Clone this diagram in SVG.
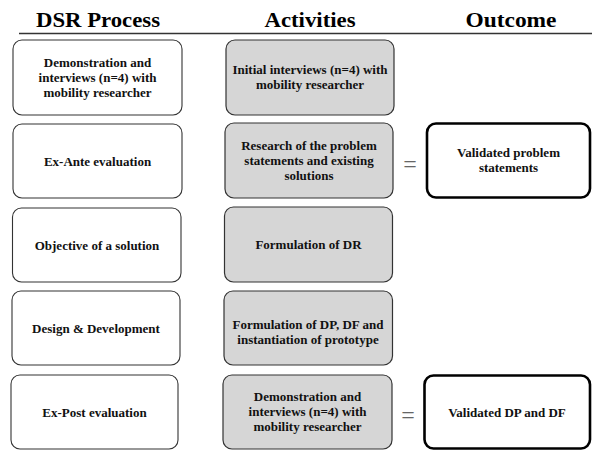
<svg xmlns="http://www.w3.org/2000/svg" width="592" height="450" viewBox="0 0 592 450">
<style>
.hdr{font-family:"Liberation Serif","Times New Roman",serif;font-weight:bold;font-size:21px;fill:#000;text-anchor:middle}
.t{font-family:"Liberation Serif","Times New Roman",serif;font-weight:bold;font-size:13px;fill:#111;text-anchor:middle}
.eq{font-family:"Liberation Serif","Times New Roman",serif;font-size:24px;fill:#666;text-anchor:middle}
.proc{fill:#fff;stroke:#333;stroke-width:1.1}
.act{fill:#d6d6d6;stroke:#333;stroke-width:1.2}
.out{fill:#fff;stroke:#000;stroke-width:2.6}
</style>
<rect width="592" height="450" fill="#fff"/>
<g id="headers">
<text class="hdr" x="98" y="27" textLength="124" lengthAdjust="spacingAndGlyphs">DSR Process</text>
<text class="hdr" x="310" y="27" textLength="91" lengthAdjust="spacingAndGlyphs">Activities</text>
<text class="hdr" x="511" y="27" textLength="91" lengthAdjust="spacingAndGlyphs">Outcome</text>
<line x1="19" y1="33.5" x2="592" y2="33.5" stroke="#333" stroke-width="1.3"/>
</g>
<g id="p1"><rect class="proc" x="13" y="40" width="169" height="75" rx="9"/>
<text class="t" x="97.5" y="66.5">Demonstration and</text><text class="t" x="97.5" y="81.5">interviews (n=4) with</text><text class="t" x="97.5" y="96.5">mobility researcher</text></g>
<g id="p2"><rect class="proc" x="13" y="124" width="169" height="74" rx="9"/>
<text class="t" x="97.5" y="165.5">Ex-Ante evaluation</text></g>
<g id="p3"><rect class="proc" x="12.5" y="208" width="168.5" height="74" rx="9"/>
<text class="t" x="97" y="249.5">Objective of a solution</text></g>
<g id="p4"><rect class="proc" x="12" y="291" width="168" height="74" rx="9"/>
<text class="t" x="96" y="332.5">Design &amp; Development</text></g>
<g id="p5"><rect class="proc" x="11" y="375" width="167" height="74" rx="9"/>
<text class="t" x="94.5" y="416.5">Ex-Post evaluation</text></g>
<g id="a1"><rect class="act" x="226" y="40" width="168" height="75" rx="9"/>
<text class="t" x="310" y="74">Initial interviews (n=4) with</text><text class="t" x="310" y="89">mobility researcher</text></g>
<g id="a2"><rect class="act" x="225" y="123" width="168" height="75" rx="9"/>
<text class="t" x="309" y="149.5">Research of the problem</text><text class="t" x="309" y="164.5">statements and existing</text><text class="t" x="309" y="179.5">solutions</text></g>
<g id="a3"><rect class="act" x="224.5" y="207" width="168" height="75" rx="9"/>
<text class="t" x="308.5" y="249">Formulation of DR</text></g>
<g id="a4"><rect class="act" x="224" y="291" width="168.5" height="74" rx="9"/>
<text class="t" x="308" y="328.5">Formulation of DP, DF and</text><text class="t" x="308" y="343.5">instantiation of prototype</text></g>
<g id="a5"><rect class="act" x="223" y="375" width="169" height="74" rx="9"/>
<text class="t" x="307.5" y="401">Demonstration and</text><text class="t" x="307.5" y="416">interviews (n=4) with</text><text class="t" x="307.5" y="431">mobility researcher</text></g>
<g id="connectors">
<text class="eq" x="410" y="172">=</text>
<text class="eq" x="408" y="423">=</text>
</g>
<g id="o1"><rect class="out" x="427" y="123.5" width="163" height="74" rx="9"/>
<text class="t" x="508.5" y="156.5">Validated problem</text><text class="t" x="508.5" y="172">statements</text></g>
<g id="o2"><rect class="out" x="424.5" y="375.5" width="165.5" height="73" rx="9"/>
<text class="t" x="507" y="417">Validated DP and DF</text></g>
</svg>
